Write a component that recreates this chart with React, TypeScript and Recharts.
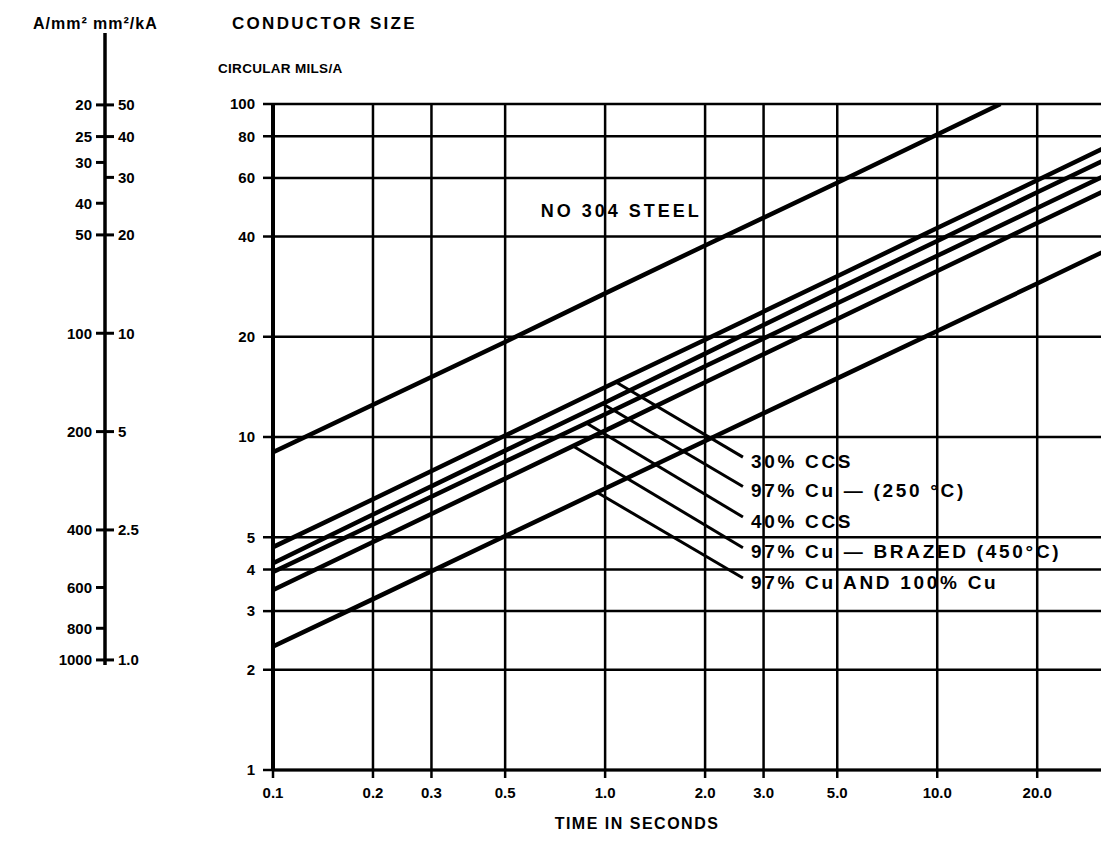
import { LineChart, Line, XAxis, YAxis, CartesianGrid, ReferenceLine, ReferenceDot } from 'recharts'

// time in seconds (log axis)
const TIME_TICKS = [0.1, 0.2, 0.3, 0.5, 1, 2, 3, 5, 10, 20]
const TIME_MIN = 0.1
const TIME_MAX = 32
// circular mils per ampere (log axis)
const CMIL_TICKS = [1, 2, 3, 4, 5, 10, 20, 40, 60, 80, 100]

// conversion scale on the far left
const AMP_PER_MM2 = [20, 25, 30, 40, 50, 100, 200, 400, 600, 800, 1000]
const MM2_PER_KA = [50, 40, 30, 20, 10, 5, 2.5, 1.0]

// curves
const STEEL_TIME = [0.1, 0.2, 0.5, 1, 2, 5, 10, 15.5]
const STEEL = [9.0, 12.5, 19.3, 27, 37.6, 58, 81, 100]

const CU_TIME = [0.1, 0.2, 0.5, 1, 2, 5, 10, 20, 32]
const CCS_30 = [4.67, 6.5, 10.1, 14.1, 19.6, 30.4, 42.4, 59, 74]
const CU_97_250 = [4.18, 5.85, 9.1, 12.7, 17.8, 27.8, 38.8, 54.3, 68]
const CCS_40 = [3.93, 5.46, 8.44, 11.7, 16.3, 25.2, 35, 48.7, 61]
const CU_97_BRAZED = [3.47, 4.84, 7.5, 10.45, 14.6, 22.6, 31.5, 43.9, 55]
const CU_97_100 = [2.35, 3.26, 5.04, 7.0, 9.73, 15.0, 20.8, 28.9, 36.2]

// callouts
const CURVE_LABELS = ['30% CCS', '97% Cu — (250 °C)', '40% CCS', '97% Cu — BRAZED (450°C)', '97% Cu AND 100% Cu']
const LEADER_FROM_T = [1.08, 0.98, 0.88, 0.8, 0.95]
const LEADER_FROM_V = [14.6, 12.6, 11.0, 9.4, 6.8]
const LEADER_TO_T = 2.6
const LEADER_TO_V = [8.7, 7.1, 5.75, 4.65, 3.77]
const STEEL_LABEL = 'NO 304 STEEL'
const STEEL_LABEL_AT = { t: 0.64, v: 47.7 }

const FONT = "'Liberation Sans', Arial, sans-serif"
const INK = '#000'

const toPoints = (ts: number[], vs: number[]) => ts.map((t, i) => ({ t, v: vs[i] }))

const curves = [
  { name: 'steel', points: toPoints(STEEL_TIME, STEEL) },
  { name: 'ccs30', points: toPoints(CU_TIME, CCS_30) },
  { name: 'cu250', points: toPoints(CU_TIME, CU_97_250) },
  { name: 'ccs40', points: toPoints(CU_TIME, CCS_40) },
  { name: 'brazed', points: toPoints(CU_TIME, CU_97_BRAZED) },
  { name: 'cu100', points: toPoints(CU_TIME, CU_97_100) },
]

// tick positions on the left scale, in mm²/kA
const auxTicks: number[] = []
;[...AMP_PER_MM2.map((a) => 1000 / a), ...MM2_PER_KA].forEach((v) => {
  if (!auxTicks.some((u) => Math.abs(u - v) < 1e-6)) auxTicks.push(v)
})

function AuxTick(props: any) {
  const { x, y, payload } = props
  const v = payload.value
  const amp = AMP_PER_MM2.find((a) => Math.abs(1000 / a - v) < 1e-6)
  const mm = MM2_PER_KA.find((m) => Math.abs(m - v) < 1e-6)
  const textStyle = { fontFamily: FONT, fontSize: 15, fontWeight: 700, fill: INK }
  return (
    <g>
      {amp !== undefined && (
        <>
          <line x1={x - 9} x2={x} y1={y} y2={y} stroke={INK} strokeWidth={3} />
          <text x={x - 13} y={y} textAnchor="end" dominantBaseline="central" {...textStyle}>
            {amp}
          </text>
        </>
      )}
      {mm !== undefined && (
        <>
          <line x1={x} x2={x + 9} y1={y} y2={y} stroke={INK} strokeWidth={3} />
          <text x={x + 13} y={y} textAnchor="start" dominantBaseline="central" {...textStyle}>
            {mm === 1 ? '1.0' : mm}
          </text>
        </>
      )}
    </g>
  )
}

const titleStyle = {
  position: 'absolute' as const,
  fontFamily: FONT,
  fontSize: 16,
  fontWeight: 700,
  lineHeight: '16px',
  letterSpacing: 1,
  whiteSpace: 'nowrap' as const,
}

const calloutStyle = { fontFamily: FONT, fontSize: 19, fontWeight: 700, fill: INK, letterSpacing: 2.7 }

export default function App() {
  const tickStyle = { fontFamily: FONT, fontSize: 15, fontWeight: 700, fill: INK }
  return (
    <div style={{ position: 'relative', width: 1101, height: 849, background: '#fff' }}>
      <LineChart
        width={1101}
        height={849}
        margin={{ top: 96, right: 4, bottom: 27, left: 0 }}
        style={{ position: 'absolute', left: 0, top: 0 }}
      >
        <CartesianGrid stroke={INK} strokeWidth={2.5} />
        <XAxis
          dataKey="t"
          type="number"
          scale="log"
          domain={[TIME_MIN, TIME_MAX]}
          allowDataOverflow
          ticks={TIME_TICKS}
          interval={0}
          tickFormatter={(v: number) => v.toFixed(1)}
          tick={tickStyle}
          tickSize={8}
          tickMargin={9}
          tickLine={{ stroke: INK, strokeWidth: 2.5 }}
          axisLine={{ stroke: INK, strokeWidth: 3 }}
          height={60}
          label={{
            value: 'TIME IN SECONDS',
            position: 'insideBottom',
            offset: 1,
            dx: -52,
            style: { fontFamily: FONT, fontSize: 16, fontWeight: 700, fill: INK, letterSpacing: 1.5 },
          }}
        />
        <YAxis
          dataKey="v"
          type="number"
          scale="log"
          domain={[1, 100]}
          allowDataOverflow
          ticks={CMIL_TICKS}
          interval={0}
          tick={tickStyle}
          tickSize={10}
          tickMargin={8}
          tickLine={{ stroke: INK, strokeWidth: 2.5 }}
          axisLine={{ stroke: INK, strokeWidth: 4 }}
          width={265}
        />
        <ReferenceLine x={TIME_MAX} stroke={INK} strokeWidth={3} />
        {curves.map((c) => (
          <Line
            key={c.name}
            data={c.points}
            dataKey="v"
            stroke={INK}
            strokeWidth={4.5}
            dot={false}
            isAnimationActive={false}
          />
        ))}
        {CURVE_LABELS.map((label, i) => (
          <ReferenceLine
            key={'leader' + i}
            segment={[
              { x: LEADER_FROM_T[i], y: LEADER_FROM_V[i] },
              { x: LEADER_TO_T, y: LEADER_TO_V[i] },
            ]}
            stroke={INK}
            strokeWidth={3}
          />
        ))}
        {CURVE_LABELS.map((label, i) => (
          <ReferenceDot
            key={'label' + i}
            x={LEADER_TO_T}
            y={LEADER_TO_V[i]}
            r={0}
            stroke="none"
            fill="none"
            label={{ value: label, position: 'right', offset: 8, dy: 4, style: calloutStyle }}
          />
        ))}
        <ReferenceDot
          x={STEEL_LABEL_AT.t}
          y={STEEL_LABEL_AT.v}
          r={0}
          stroke="none"
          fill="none"
          label={{
            value: STEEL_LABEL,
            position: 'right',
            offset: 0,
            style: { fontFamily: FONT, fontSize: 18, fontWeight: 700, fill: INK, letterSpacing: 3 },
          }}
        />
      </LineChart>

      <LineChart
        width={200}
        height={680}
        data={[]}
        margin={{ top: 25, right: 0, bottom: 23, left: 0 }}
        style={{ position: 'absolute', left: 0, top: 0 }}
      >
        <XAxis hide type="number" domain={[0, 1]} />
        <YAxis
          type="number"
          scale="log"
          domain={[0.965, 83]}
          allowDataOverflow
          ticks={auxTicks}
          interval={0}
          width={97}
          tickSize={0}
          tickMargin={0}
          tickLine={false}
          tick={<AuxTick />}
          axisLine={{ stroke: INK, strokeWidth: 3.5 }}
        />
      </LineChart>

      <div style={{ ...titleStyle, left: 25, top: 8 }}>A/mm²</div>
      <div style={{ ...titleStyle, left: 85, top: 8 }}>mm²/kA</div>
      <div style={{ ...titleStyle, left: 224, top: 8, fontSize: 17, letterSpacing: 2.3 }}>CONDUCTOR SIZE</div>
      <div style={{ ...titleStyle, left: 210, top: 53, fontSize: 13.5, letterSpacing: 0.3 }}>CIRCULAR MILS/A</div>
    </div>
  )
}
